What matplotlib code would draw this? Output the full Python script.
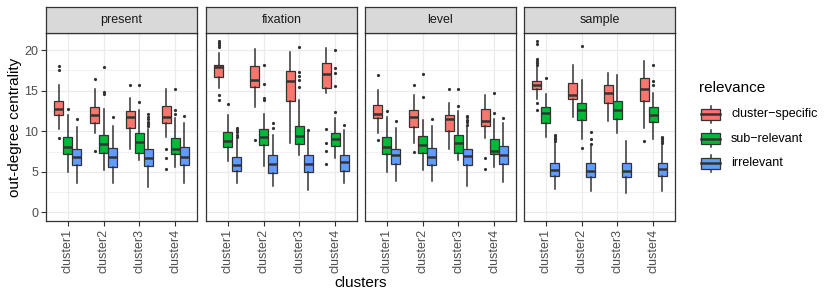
import matplotlib
matplotlib.use("Agg")
import matplotlib.pyplot as plt
from matplotlib.patches import Rectangle
from matplotlib.ticker import MultipleLocator

plt.rcParams["font.family"] = ["Liberation Sans", "DejaVu Sans"]

facets = ["present", "fixation", "level", "sample"]
clusters = ["cluster1", "cluster2", "cluster3", "cluster4"]
groups = ["cluster\u2212specific", "sub\u2212relevant", "irrelevant"]
colors = ["#F8766D", "#00BA38", "#619CFF"]

# one row per facet; 12 boxes per row: cluster1 (cs, sub, irr), cluster2 (...), ...
q1 = [
    [11.97, 7.21, 5.90, 10.98, 7.38, 5.66, 10.45, 7.30, 5.74, 11.00, 7.21, 5.82],
    [16.72, 8.03, 5.16, 15.40, 8.28, 4.92, 13.70, 8.44, 5.00, 15.33, 8.20, 5.16],
    [11.64, 7.21, 5.98, 10.57, 7.38, 5.82, 10.00, 7.30, 5.90, 10.66, 7.21, 5.98],
    [15.16, 10.98, 4.43, 13.93, 11.40, 4.34, 13.44, 11.56, 4.34, 13.77, 11.15, 4.50],
]
med = [
    [12.70, 8.11, 6.89, 12.00, 8.44, 6.80, 11.80, 8.69, 6.72, 11.80, 7.87, 6.89],
    [17.87, 8.85, 5.90, 16.30, 9.34, 5.98, 16.20, 9.43, 5.98, 17.05, 9.00, 6.23],
    [12.13, 8.11, 7.05, 11.80, 8.28, 6.89, 11.48, 8.60, 6.97, 11.30, 7.62, 7.05],
    [15.66, 12.20, 5.25, 14.50, 12.60, 5.16, 14.67, 12.62, 5.16, 15.16, 12.00, 5.33],
]
q3 = [
    [13.69, 9.34, 7.83, 13.03, 9.59, 7.91, 12.46, 9.75, 7.79, 13.10, 9.18, 8.11],
    [18.20, 9.92, 6.89, 18.00, 10.30, 7.05, 17.40, 10.66, 7.05, 18.36, 9.75, 7.05],
    [13.28, 9.26, 7.87, 12.60, 9.43, 7.95, 11.97, 9.59, 7.79, 12.70, 9.00, 8.20],
    [16.23, 13.03, 6.07, 15.90, 13.50, 6.07, 15.74, 13.77, 6.07, 16.50, 13.03, 6.15],
]
whislo = [
    [10.25, 5.00, 3.69, 9.75, 5.25, 3.60, 7.87, 6.50, 3.10, 9.34, 5.66, 3.60],
    [15.30, 6.30, 3.69, 13.00, 5.74, 3.20, 8.60, 7.13, 2.79, 14.75, 6.68, 3.69],
    [9.84, 5.00, 3.85, 8.52, 5.25, 3.85, 7.79, 6.48, 3.28, 9.14, 5.57, 3.77],
    [13.93, 9.26, 2.87, 11.80, 9.00, 2.70, 11.30, 9.84, 2.38, 10.40, 9.10, 2.62],
]
whishi = [
    [15.70, 12.00, 10.50, 15.16, 12.80, 10.60, 14.06, 12.60, 10.30, 15.16, 11.60, 11.07],
    [19.67, 12.00, 9.00, 20.16, 12.10, 9.50, 19.75, 13.80, 10.00, 20.30, 11.60, 10.10],
    [15.08, 11.70, 10.40, 14.47, 11.40, 10.66, 13.44, 12.50, 10.50, 14.47, 11.50, 11.00],
    [17.95, 14.60, 8.52, 18.20, 16.30, 8.20, 17.20, 16.90, 8.77, 18.60, 14.67, 8.30],
]
fliers = [
    [[18.0, 17.5, 9.2], [12.8], [11.56],
     [16.4, 7.62], [14.6, 14.8, 17.9], [11.7],
     [15.74], [15.74, 13.6], [10.6, 10.9, 11.2, 11.5, 11.8, 12.1],
     [7.83, 6.72, 5.41], [15.16, 12.6, 12.1], [11.9]],
    [[21.15, 20.9, 20.66, 20.4, 14.5, 13.85], [13.3], [9.3, 9.6, 9.9, 10.2, 10.4],
     [8.93], [18.2, 15.8, 14.06, 13.85], [10.45, 10.98],
     [], [20.4, 17.3, 16.8, 16.3, 15.4], [10.2],
     [10.25, 8.6, 7.6, 6.0], [20.0, 17.8, 17.2, 15.57, 12.4], [10.8]],
    [[16.97, 8.93], [12.46], [11.3],
     [15.74, 7.5], [17.05, 14.26], [11.5],
     [15.16], [15.16, 13.1], [10.8, 11.1, 11.4, 11.7, 11.9],
     [6.72, 5.41], [14.67, 12.2], [11.6]],
    [[21.15, 20.8, 18.9, 18.6, 18.4, 18.1, 13.44, 12.62], [16.56], [8.8, 9.0, 9.2, 9.4, 9.6],
     [], [20.5, 7.9], [8.44, 9.1, 9.96],
     [], [], [],
     [8.85], [18.2, 16.2, 15.66], [8.6, 8.8, 9.0, 9.2, 9.34]],
]
y_ticks = [0, 5, 10, 15, 20]

W, H = 830, 299
fig = plt.figure(figsize=(W / 100, H / 100), dpi=100)


def px_rect(left, top, right, bottom):
    return [left / W, 1 - bottom / H, (right - left) / W, (bottom - top) / H]


dark = "#333333"
small = 9
panel_left = [46, 206, 365, 524]
panel_w = 151
panel_top, panel_bot, strip_top = 33, 221, 7
offsets = [-0.25, 0.0, 0.25]

for f, name in enumerate(facets):
    left = panel_left[f]
    ax = fig.add_axes(px_rect(left, panel_top, left + panel_w, panel_bot))
    ax.set_axisbelow(True)

    stats, pos, fills = [], [], []
    for c in range(len(clusters)):
        for g in range(len(groups)):
            i = c * 3 + g
            stats.append(dict(q1=q1[f][i], med=med[f][i], q3=q3[f][i],
                              whislo=whislo[f][i], whishi=whishi[f][i],
                              fliers=fliers[f][i]))
            pos.append(c + 1 + offsets[g])
            fills.append(colors[g])

    art = ax.bxp(stats, positions=pos, widths=0.24, patch_artist=True,
                 showcaps=False,
                 boxprops=dict(edgecolor=dark, linewidth=0.9),
                 medianprops=dict(color=dark, linewidth=1.8),
                 whiskerprops=dict(color=dark, linewidth=1.1),
                 flierprops=dict(marker="o", markersize=2.3, markerfacecolor=dark,
                                 markeredgecolor="none"))
    for box, col in zip(art["boxes"], fills):
        box.set_facecolor(col)

    ax.set_xlim(0.4, 4.6)
    ax.set_ylim(-1.05, 22.1)
    ax.set_xticks(range(1, 5))
    ax.set_xticklabels(clusters, rotation=90, fontsize=small, color="#4D4D4D")
    ax.set_yticks(y_ticks)
    ax.yaxis.set_minor_locator(MultipleLocator(2.5))
    ax.grid(True, which="major", color="#EBEBEB", linewidth=0.9)
    ax.grid(True, which="minor", axis="y", color="#EBEBEB", linewidth=0.5)
    ax.tick_params(which="minor", length=0)
    ax.tick_params(which="major", length=3.5, width=0.8, color=dark, pad=2)
    if f == 0:
        ax.set_yticklabels([str(t) for t in y_ticks], fontsize=small, color="#4D4D4D")
    else:
        ax.tick_params(axis="y", which="major", length=0, labelleft=False)
    for sp in ax.spines.values():
        sp.set_color(dark)
        sp.set_linewidth(0.9)

    sax = fig.add_axes(px_rect(left, strip_top, left + panel_w, panel_top))
    sax.set_facecolor("#D9D9D9")
    sax.set_xticks([])
    sax.set_yticks([])
    for sp in sax.spines.values():
        sp.set_color(dark)
        sp.set_linewidth(0.9)
    sax.text(0.5, 0.5, name, ha="center", va="center", fontsize=small, color="#1A1A1A",
             transform=sax.transAxes)

fig.text(15 / W, 1 - 127 / H, "out-degree centrality", rotation=90, ha="center",
         va="center", fontsize=11)
fig.text(360.5 / W, 1 - 283 / H, "clusters", ha="center", va="center", fontsize=11)

# legend drawn in a pixel-scaled helper axes
lx0, ly0, lx1, ly1 = 690, 70, 830, 190
lax = fig.add_axes(px_rect(lx0, ly0, lx1, ly1))
lax.set_xlim(lx0, lx1)
lax.set_ylim(ly1, ly0)
lax.axis("off")
lax.text(699, 88, "relevance", ha="left", va="center", fontsize=11)
key_y = [114, 138.5, 163]
for yk, col, lab in zip(key_y, colors, groups):
    lax.plot([710.5, 710.5], [yk - 8.5, yk + 8.5], color=dark, linewidth=1.1)
    lax.add_patch(Rectangle((701, yk - 5.5), 19, 11, facecolor=col, edgecolor=dark,
                            linewidth=0.9, zorder=3))
    lax.plot([701, 720], [yk, yk], color=dark, linewidth=1.8, zorder=4)
    lax.text(731, yk, lab, ha="left", va="center", fontsize=small)

fig.savefig("out.png", dpi=100)
